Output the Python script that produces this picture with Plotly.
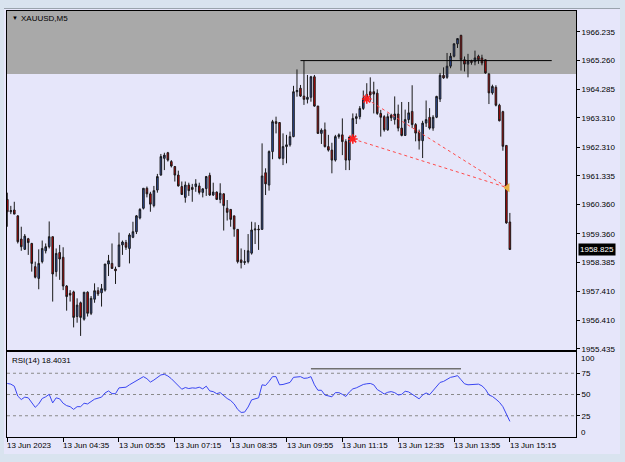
import plotly.graph_objects as go

# ---------------- data ----------------
opens = [1960.53, 1960.11, 1960.17, 1959.97, 1959.18, 1958.83, 1959.19, 1959.03, 1958.24, 1957.84,
         1958.41, 1958.78, 1958.92, 1959.26, 1958.07, 1958.72, 1958.56, 1957.58, 1957.33, 1957.38,
         1956.54, 1957.01, 1956.45, 1957.37, 1956.65, 1957.13, 1957.42, 1957.35, 1957.44, 1958.33,
         1958.35, 1958.16, 1958.24, 1958.98, 1959.06, 1958.86, 1959.24, 1959.43, 1959.90, 1960.23,
         1960.91, 1960.72, 1960.32, 1960.85, 1961.36, 1961.93, 1962.12, 1961.82, 1961.65, 1961.36,
         1960.97, 1960.60, 1961.02, 1960.94, 1960.97, 1960.99, 1960.77, 1960.90, 1961.35, 1960.68,
         1960.78, 1960.53, 1960.72, 1960.23, 1960.19, 1959.97, 1959.51, 1958.47, 1958.38, 1958.41,
         1958.70, 1959.49, 1959.52, 1959.51, 1961.44, 1961.02, 1962.16, 1963.18, 1963.15, 1961.93,
         1962.33, 1962.39, 1962.67, 1964.20, 1964.32, 1964.05, 1963.94, 1964.01, 1964.71, 1963.71,
         1962.78, 1962.90, 1962.33, 1962.21, 1961.87, 1962.67, 1962.73, 1962.50, 1961.87, 1962.65,
         1963.29, 1963.35, 1963.63, 1963.98, 1964.20, 1964.20, 1964.15, 1963.46, 1963.35, 1962.90,
         1963.40, 1963.25, 1963.44, 1962.96, 1962.71, 1963.25, 1963.53, 1963.08, 1962.83, 1962.53,
         1963.13, 1963.33, 1962.96, 1963.33, 1963.95, 1964.76, 1964.69, 1965.07, 1965.41, 1965.83,
         1966.12, 1965.29, 1965.14, 1965.24, 1965.22, 1965.41, 1965.35, 1965.29, 1964.80, 1964.16,
         1964.35, 1963.74, 1963.52, 1962.37, 1959.76]

highs = [1960.76, 1960.31, 1960.45, 1959.99, 1959.60, 1959.35, 1959.22, 1959.05, 1958.41, 1958.83,
         1959.13, 1959.03, 1959.78, 1959.26, 1958.86, 1958.98, 1958.90, 1957.61, 1957.44, 1957.42,
         1957.16, 1957.05, 1957.37, 1957.40, 1957.24, 1957.67, 1957.54, 1957.65, 1958.33, 1958.64,
         1959.03, 1958.24, 1959.40, 1959.13, 1959.15, 1959.38, 1959.77, 1960.00, 1960.23, 1960.91,
         1960.97, 1960.79, 1960.99, 1961.40, 1962.08, 1962.12, 1962.15, 1961.87, 1961.67, 1961.51,
         1961.14, 1961.14, 1961.10, 1961.06, 1961.22, 1961.10, 1960.91, 1961.33, 1961.44, 1961.10,
         1960.80, 1961.08, 1960.74, 1960.51, 1960.20, 1959.97, 1959.52, 1958.86, 1958.81, 1959.35,
         1959.77, 1959.75, 1959.66, 1962.44, 1961.59, 1962.20, 1963.24, 1963.35, 1963.16, 1962.78,
         1962.73, 1962.84, 1964.40, 1964.96, 1964.43, 1965.26, 1964.77, 1964.74, 1964.77, 1963.72,
         1962.95, 1963.15, 1962.73, 1962.46, 1962.73, 1962.78, 1963.29, 1962.58, 1962.67, 1963.46,
         1963.46, 1963.71, 1964.24, 1964.49, 1964.69, 1964.54, 1964.28, 1963.58, 1963.40, 1963.46,
         1963.45, 1964.04, 1963.76, 1963.85, 1963.59, 1963.85, 1964.42, 1963.13, 1962.91, 1963.21,
         1963.90, 1963.64, 1963.40, 1964.06, 1964.84, 1965.03, 1965.52, 1965.52, 1965.85, 1966.03,
         1966.14, 1965.40, 1965.49, 1965.29, 1965.60, 1965.46, 1965.46, 1965.30, 1964.84, 1964.44,
         1964.42, 1963.79, 1963.55, 1962.37, 1960.07]

lows = [1959.60, 1960.03, 1960.03, 1959.03, 1958.78, 1958.81, 1958.64, 1958.07, 1957.84, 1957.47,
        1958.35, 1958.69, 1958.86, 1957.05, 1957.90, 1957.79, 1957.44, 1956.74, 1957.05, 1956.17,
        1956.33, 1955.88, 1956.40, 1956.54, 1956.59, 1957.01, 1957.24, 1956.88, 1957.39, 1957.92,
        1958.16, 1957.65, 1958.24, 1958.64, 1958.81, 1958.35, 1959.21, 1959.35, 1959.85, 1960.19,
        1960.60, 1960.11, 1960.26, 1960.76, 1961.34, 1961.53, 1961.82, 1961.62, 1961.14, 1960.97,
        1960.68, 1960.42, 1960.65, 1960.45, 1960.79, 1960.70, 1960.60, 1960.65, 1960.65, 1960.65,
        1960.51, 1960.40, 1959.47, 1959.81, 1959.60, 1959.26, 1958.35, 1958.18, 1958.30, 1958.35,
        1958.65, 1959.01, 1958.81, 1959.49, 1960.68, 1960.83, 1961.90, 1962.78, 1961.90, 1961.70,
        1961.76, 1962.33, 1962.65, 1964.03, 1964.02, 1963.75, 1963.80, 1963.86, 1963.69, 1962.76,
        1962.42, 1962.30, 1962.16, 1961.42, 1961.82, 1962.60, 1962.04, 1961.53, 1961.53, 1962.50,
        1963.10, 1963.26, 1963.58, 1963.93, 1963.86, 1963.46, 1963.41, 1962.67, 1962.84, 1962.87,
        1963.20, 1963.08, 1962.85, 1962.68, 1962.70, 1963.13, 1962.96, 1962.51, 1962.23, 1961.94,
        1963.00, 1962.91, 1962.87, 1963.30, 1963.85, 1964.64, 1964.64, 1965.00, 1965.37, 1965.69,
        1964.92, 1964.89, 1964.69, 1965.12, 1965.10, 1965.15, 1965.10, 1964.81, 1963.78, 1964.10,
        1963.70, 1963.19, 1962.19, 1959.70, 1958.82]

closes = [1960.11, 1960.15, 1960.03, 1959.09, 1958.92, 1959.28, 1959.06, 1958.35, 1957.88, 1958.35,
          1958.86, 1958.92, 1959.26, 1957.99, 1958.69, 1958.50, 1957.58, 1957.22, 1957.27, 1956.51,
          1956.93, 1956.51, 1957.37, 1956.65, 1957.16, 1957.42, 1957.31, 1957.49, 1958.33, 1958.44,
          1958.18, 1958.10, 1958.98, 1959.08, 1958.90, 1959.32, 1959.43, 1959.97, 1960.19, 1960.91,
          1960.72, 1960.37, 1960.83, 1961.31, 1961.99, 1962.04, 1961.87, 1961.67, 1961.36, 1960.99,
          1960.70, 1961.02, 1960.83, 1960.87, 1961.06, 1960.77, 1960.89, 1961.31, 1960.68, 1960.78,
          1960.53, 1960.74, 1960.32, 1960.09, 1959.85, 1959.52, 1958.41, 1958.38, 1958.41, 1958.78,
          1959.49, 1959.52, 1959.50, 1961.33, 1961.06, 1962.16, 1963.18, 1963.12, 1961.93, 1962.33,
          1962.39, 1962.67, 1964.20, 1964.24, 1964.05, 1963.94, 1964.01, 1964.71, 1963.71, 1962.78,
          1962.89, 1962.33, 1962.21, 1961.87, 1962.67, 1962.73, 1962.50, 1961.87, 1962.65, 1963.29,
          1963.35, 1963.63, 1963.98, 1964.11, 1964.09, 1964.12, 1963.46, 1963.33, 1962.90, 1963.35,
          1963.31, 1963.44, 1962.96, 1962.71, 1963.25, 1963.48, 1963.08, 1962.79, 1962.53, 1963.13,
          1963.25, 1962.96, 1963.33, 1964.04, 1964.76, 1964.67, 1965.07, 1965.41, 1965.83, 1966.01,
          1965.29, 1965.14, 1965.24, 1965.20, 1965.35, 1965.29, 1965.18, 1964.84, 1964.16, 1964.38,
          1963.74, 1963.21, 1962.34, 1959.73, 1958.825]

rsi_values = [63.0, 62.2, 59.8, 48.1, 44.1, 46.9, 46.1, 40.1, 34.9, 38.9,
              45.3, 47.3, 50.2, 40.1, 46.1, 44.9, 39.7, 36.9, 35.7, 32.5,
              35.7, 35.7, 39.7, 38.9, 42.1, 44.5, 45.7, 46.9, 51.8, 54.2,
              51.0, 51.0, 57.8, 58.6, 58.6, 61.4, 63.8, 66.2, 68.2, 71.0,
              68.6, 64.6, 67.0, 69.8, 73.0, 73.8, 71.8, 68.6, 64.6, 60.6,
              56.2, 58.2, 57.0, 57.8, 57.4, 58.6, 56.6, 59.8, 54.2, 53.4,
              51.0, 52.2, 48.6, 45.3, 42.9, 38.9, 32.5, 28.9, 29.3, 35.3,
              43.7, 45.3, 46.1, 61.4, 60.6, 65.4, 71.0, 71.0, 61.4, 61.8,
              63.0, 64.2, 70.2, 71.0, 71.0, 69.0, 69.4, 71.0, 61.4, 55.0,
              55.0, 49.4, 48.1, 47.3, 52.2, 52.2, 50.2, 47.7, 52.9, 56.6,
              57.8, 59.8, 61.8, 62.6, 63.0, 61.4, 55.8, 53.4, 50.6, 52.6,
              53.4, 52.2, 49.4, 50.2, 53.8, 53.0, 50.2, 47.7, 44.9, 49.4,
              51.8, 49.8, 54.6, 59.0, 64.2, 65.4, 68.2, 70.2, 71.0, 72.2,
              67.4, 62.6, 61.4, 61.4, 61.8, 62.2, 60.2, 56.2, 49.4, 47.7,
              44.5, 40.9, 35.7, 27.7, 18.4031]

time_tick_bars = [0, 16, 32, 48, 64, 80, 96, 112, 128, 144]
time_tick_labels = ["13 Jun 2023", "13 Jun 04:35", "13 Jun 05:55", "13 Jun 07:15",
                    "13 Jun 08:35", "13 Jun 09:55", "13 Jun 11:15", "13 Jun 12:35",
                    "13 Jun 13:55", "13 Jun 15:15"]

price_ticks = [1966.235, 1965.260, 1964.285, 1963.310, 1962.310, 1961.335,
               1960.360, 1959.360, 1958.385, 1957.410, 1956.410, 1955.435]
price_range = [1955.40, 1966.95]

rsi_ticks = [25, 50, 75]
rsi_levels = [25, 50, 75]

zone_low = 1964.80            # grey supply zone (to top of chart)
resistance_level = 1965.26
resistance_bars = [84, 156]
trend_a = ([99, 143.3], [1962.59, 1960.93])
trend_b = ([103, 143.3], [1963.95, 1960.93])
rsi_marker_level = 80.2
rsi_marker_bars = [87, 130]

symbol_label = "XAUUSD,M5"

# ---------------- layout helpers ----------------
W, H = 625, 462
ML, MR, MT, MB = 7, 49, 11, 25
PW = W - ML - MR
PH = H - MT - MB


def pxx(xp):
    return (xp - ML) / PW


def pxy(yp):
    return (H - MB - yp) / PH


FONT = "Liberation Sans, Arial, sans-serif"
BG = "#e6e6fa"
FRAME = "#d9e3ef"

bars = list(range(len(closes)))

fig = go.Figure()

fig.add_trace(go.Candlestick(
    x=bars, open=opens, high=highs, low=lows, close=closes,
    increasing=dict(line=dict(color="#1a1a1a", width=1), fillcolor="#2f52b0"),
    decreasing=dict(line=dict(color="#1a1a1a", width=1), fillcolor="#d40000"),
    whiskerwidth=0, showlegend=False, hoverinfo="skip",
    xaxis="x", yaxis="y",
))

fig.add_trace(go.Scatter(
    x=resistance_bars, y=[resistance_level] * 2, mode="lines",
    line=dict(color="#000000", width=1), showlegend=False, hoverinfo="skip",
    xaxis="x", yaxis="y"))

for tx, ty in (trend_a, trend_b):
    fig.add_trace(go.Scatter(
        x=tx, y=ty, mode="lines",
        line=dict(color="#ff4a4a", width=1, dash="3px,3px"),
        showlegend=False, hoverinfo="skip", xaxis="x", yaxis="y"))

fig.add_trace(go.Scatter(
    x=[trend_a[0][0], trend_b[0][0]], y=[trend_a[1][0], trend_b[1][0]],
    mode="markers", marker=dict(symbol="asterisk-open", size=8, color="#ff2020",
                                line=dict(color="#ff2020", width=1.6)),
    showlegend=False, hoverinfo="skip", xaxis="x", yaxis="y"))
fig.add_trace(go.Scatter(
    x=[trend_a[0][1]], y=[trend_a[1][1]], mode="markers",
    marker=dict(symbol="triangle-left", size=8, color="#e8b040"),
    showlegend=False, hoverinfo="skip", xaxis="x", yaxis="y"))

# RSI
fig.add_trace(go.Scatter(
    x=bars, y=rsi_values, mode="lines", line=dict(color="#3a46f2", width=1),
    showlegend=False, hoverinfo="skip", xaxis="x2", yaxis="y2"))
fig.add_trace(go.Scatter(
    x=rsi_marker_bars, y=[rsi_marker_level] * 2, mode="lines",
    line=dict(color="#707070", width=1.5), showlegend=False, hoverinfo="skip",
    xaxis="x2", yaxis="y2"))

shapes = []
shapes.append(dict(type="rect", xref="x domain", yref="y", x0=0, x1=1,
                   y0=zone_low, y1=price_range[1], fillcolor="#a9a9a9",
                   line=dict(width=0), layer="below"))
for lv in rsi_levels:
    shapes.append(dict(type="line", xref="x2 domain", yref="y2", x0=0, x1=1,
                       y0=lv, y1=lv, line=dict(color="#8a8a8a", width=1, dash="3px,3px"),
                       layer="below"))
# window frame strips
shapes += [
    dict(type="rect", xref="paper", yref="paper", x0=pxx(0), x1=pxx(W),
         y0=pxy(8), y1=pxy(0), fillcolor=FRAME, line=dict(width=0), layer="below"),
    dict(type="rect", xref="paper", yref="paper", x0=pxx(0), x1=pxx(W),
         y0=pxy(H), y1=pxy(454), fillcolor=FRAME, line=dict(width=0), layer="below"),
    dict(type="rect", xref="paper", yref="paper", x0=pxx(0), x1=pxx(4),
         y0=pxy(H), y1=pxy(0), fillcolor=FRAME, line=dict(width=0), layer="below"),
    dict(type="rect", xref="paper", yref="paper", x0=pxx(620), x1=pxx(W),
         y0=pxy(H), y1=pxy(0), fillcolor=FRAME, line=dict(width=0), layer="below"),
    dict(type="line", xref="paper", yref="paper", x0=pxx(4), x1=pxx(620),
         y0=pxy(8.5), y1=pxy(8.5), line=dict(color="#9aa3ad", width=1)),
]

annotations = []
annotations.append(dict(xref="paper", yref="paper", x=pxx(10), y=pxy(18.5),
                        text="▼", showarrow=False, xanchor="left", yanchor="middle",
                        font=dict(family=FONT, size=6, color="#000")))
annotations.append(dict(xref="paper", yref="paper", x=pxx(19), y=pxy(18.5),
                        text=symbol_label, showarrow=False, xanchor="left", yanchor="middle",
                        font=dict(family=FONT, size=8, color="#000")))
annotations.append(dict(xref="paper", yref="paper", x=pxx(9.5), y=pxy(360.5),
                        text=f"RSI(14) {rsi_values[-1]:.4f}", showarrow=False,
                        xanchor="left", yanchor="middle",
                        font=dict(family=FONT, size=8, color="#000")))
for b, lab in zip(time_tick_bars, time_tick_labels):
    annotations.append(dict(xref="x2", yref="paper", x=b, y=pxy(445),
                            text=lab, showarrow=False, xanchor="left", yanchor="middle",
                            xshift=-2, font=dict(family=FONT, size=8, color="#000")))
for val, ypix in ((100, 358), (0, 432)):
    annotations.append(dict(xref="paper", yref="paper", x=pxx(579), y=pxy(ypix),
                            text=str(val), showarrow=False, xanchor="left", yanchor="middle",
                            font=dict(family=FONT, size=8, color="#000")))
annotations.append(dict(xref="paper", yref="y", x=pxx(578), y=closes[-1],
                        text=f"{closes[-1]:.3f}", showarrow=False, xanchor="left",
                        yanchor="middle", bgcolor="#000000", borderpad=1,
                        font=dict(family=FONT, size=8, color="#ffffff")))

fig.update_layout(
    width=W, height=H,
    margin=dict(l=ML, r=MR, t=MT, b=MB, pad=0),
    paper_bgcolor=BG, plot_bgcolor=BG,
    showlegend=False, boxgap=0.35,
    shapes=shapes, annotations=annotations,
    xaxis=dict(domain=[0, 1], anchor="y", range=[-0.09, 162.95],
               showline=True, mirror=True, linecolor="#000", linewidth=1,
               showgrid=False, zeroline=False, showticklabels=False, ticks="",
               rangeslider=dict(visible=False), fixedrange=True),
    yaxis=dict(domain=[pxy(350), 1.0], anchor="x", side="right", range=price_range,
               showline=True, mirror=True, linecolor="#000", linewidth=1,
               showgrid=False, zeroline=False, ticks="outside", ticklen=3,
               tickcolor="#000", tickvals=price_ticks,
               ticktext=[f"{v:.3f}" for v in price_ticks],
               tickfont=dict(family=FONT, size=8, color="#000"), fixedrange=True),
    xaxis2=dict(domain=[0, 1], anchor="y2", matches="x", range=[-0.09, 162.95],
                showline=True, mirror=True, linecolor="#000", linewidth=1,
                showgrid=False, zeroline=False, showticklabels=False,
                ticks="outside", ticklen=4, tickcolor="#000",
                tickvals=time_tick_bars, fixedrange=True),
    yaxis2=dict(domain=[0, pxy(352)], anchor="x2", side="right", range=[0, 100],
                showline=True, mirror=True, linecolor="#000", linewidth=1,
                showgrid=False, zeroline=False, ticks="outside", ticklen=3,
                tickcolor="#000", tickvals=rsi_ticks,
                ticktext=[str(v) for v in rsi_ticks],
                tickfont=dict(family=FONT, size=8, color="#000"), fixedrange=True),
)

fig.write_html("out.html")
